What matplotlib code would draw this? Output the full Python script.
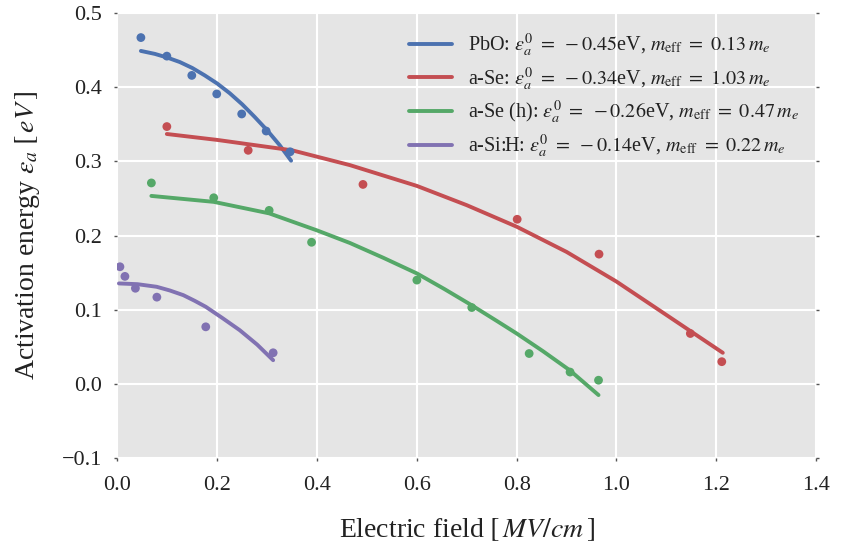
import matplotlib
matplotlib.use("Agg")
import matplotlib.pyplot as plt
from matplotlib.ticker import FuncFormatter

plt.rcParams["font.family"] = ["Liberation Serif", "DejaVu Serif"]
plt.rcParams["mathtext.fontset"] = "stix"

# Measured activation energies vs field
pbo_x = [0.047, 0.099, 0.149, 0.199, 0.249, 0.298, 0.346]
pbo_y = [0.467, 0.442, 0.416, 0.391, 0.364, 0.341, 0.313]
se_x = [0.099, 0.262, 0.492, 0.801, 0.965, 1.148, 1.211]
se_y = [0.347, 0.315, 0.269, 0.222, 0.175, 0.068, 0.030]
seh_x = [0.068, 0.193, 0.304, 0.389, 0.600, 0.710, 0.825, 0.907, 0.964]
seh_y = [0.271, 0.251, 0.234, 0.191, 0.140, 0.103, 0.041, 0.016, 0.005]
si_x = [0.005, 0.015, 0.036, 0.079, 0.177, 0.312]
si_y = [0.158, 0.145, 0.129, 0.117, 0.077, 0.042]

# Model curves
pbo_fx = [0.047, 0.075, 0.10, 0.125, 0.15, 0.175, 0.20, 0.225, 0.25, 0.275, 0.30, 0.325, 0.348]
pbo_fy = [0.449, 0.445, 0.440, 0.434, 0.426, 0.416, 0.405, 0.392, 0.377, 0.360, 0.342, 0.322, 0.301]
se_fx = [0.099, 0.20, 0.35, 0.466, 0.60, 0.70, 0.80, 0.90, 1.00, 1.10, 1.213]
se_fy = [0.337, 0.329, 0.315, 0.295, 0.267, 0.241, 0.212, 0.178, 0.138, 0.093, 0.042]
seh_fx = [0.068, 0.193, 0.304, 0.40, 0.466, 0.533, 0.600, 0.655, 0.710, 0.760, 0.800, 0.853, 0.906, 0.964]
seh_fy = [0.2535, 0.2455, 0.230, 0.207, 0.190, 0.170, 0.149, 0.128, 0.106, 0.085, 0.068, 0.044, 0.0186, -0.015]
si_fx = [0.003, 0.04, 0.0785, 0.105, 0.132, 0.155, 0.177, 0.21, 0.245, 0.28, 0.312]
si_fy = [0.1355, 0.1345, 0.131, 0.126, 0.1197, 0.112, 0.104, 0.089, 0.0725, 0.053, 0.032]

labels = [
    r"PbO: $\varepsilon_a^0\ =\ -0.45$eV, $m_{\rm eff}\ =\ 0.13\,m_e$",
    r"a-Se: $\varepsilon_a^0\ =\ -0.34$eV, $m_{\rm eff}\ =\ 1.03\,m_e$",
    r"a-Se (h): $\varepsilon_a^0\ =\ -0.26$eV, $m_{\rm eff}\ =\ 0.47\,m_e$",
    r"a-Si:H: $\varepsilon_a^0\ =\ -0.14$eV, $m_{\rm eff}\ =\ 0.22\,m_e$",
]
colors = ["#4C72B0", "#C44E52", "#55A868", "#8172B2"]
ink = "#222222"

fig = plt.figure(figsize=(8.51, 5.46), dpi=100)
ax = fig.add_axes([0.138, 0.161, 0.821, 0.815])
ax.set_facecolor("#E5E5E5")
for s in ax.spines.values():
    s.set_visible(False)
ax.grid(True, color="white", linewidth=1.5)
ax.set_axisbelow(True)

series = [
    (pbo_x, pbo_y, pbo_fx, pbo_fy),
    (se_x, se_y, se_fx, se_fy),
    (seh_x, seh_y, seh_fx, seh_fy),
    (si_x, si_y, si_fx, si_fy),
]
for (px, py, fx, fy), c, lab in zip(series, colors, labels):
    ax.plot(fx, fy, color=c, linewidth=2.8, label=lab, solid_capstyle="round")
    ax.scatter(px, py, color=c, s=40, zorder=3, edgecolors="none")

ax.set_xlim(0, 1.4)
ax.set_ylim(-0.1, 0.5)
ax.set_xticks([0.0, 0.2, 0.4, 0.6, 0.8, 1.0, 1.2, 1.4])
ax.set_yticks([-0.1, 0.0, 0.1, 0.2, 0.3, 0.4, 0.5])
ax.tick_params(axis="both", labelsize=16, length=2, width=1, color="#555555",
               labelcolor=ink)
ax.tick_params(axis="x", pad=11)
ax.tick_params(axis="y", pad=9)
ax.yaxis.set_ticks_position("both")
fmt = FuncFormatter(lambda v, p: ("\u2212%.1f" % abs(v)) if v < -1e-9 else "%.1f" % abs(v))
ax.xaxis.set_major_formatter(fmt)
ax.yaxis.set_major_formatter(fmt)

ax.set_xlabel(r"Electric field $\left[\,MV/cm\,\right]$", fontsize=20, labelpad=15, color=ink)
ax.set_ylabel(r"Activation energy $\varepsilon_a\;\left[\,eV\,\right]$", fontsize=20,
              labelpad=14, color=ink)

leg = ax.legend(loc="upper left", bbox_to_anchor=(0.418, 0.958), fontsize=14.5,
                frameon=False, handlelength=2.1, handletextpad=0.8,
                labelspacing=0.3, borderpad=0, borderaxespad=0)
for t in leg.get_texts():
    t.set_color(ink)

fig.savefig("out.png", dpi=100)
